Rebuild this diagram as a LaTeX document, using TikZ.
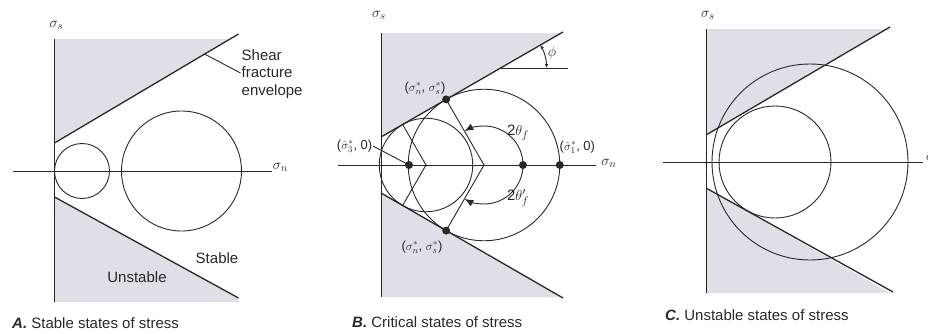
\documentclass[tikz,border=0pt]{standalone}
\usepackage{fontspec}
\setmainfont{Liberation Sans}
\usetikzlibrary{arrows.meta,positioning,calc}
\definecolor{rockgray}{RGB}{224,222,230}
\definecolor{inkgray}{RGB}{40,40,40}

\begin{document}
\begin{tikzpicture}[x=1pt,y=1pt,
		axis/.style={draw=inkgray, line width=0.9pt},
		envline/.style={draw=inkgray, line width=1.3pt},
		mohr/.style={draw=inkgray, line width=0.9pt},
		unstable/.style={fill=rockgray},
		dot/.style={circle, fill=inkgray, inner sep=0pt, minimum size=8pt},
		lbl/.style={font=\fontsize{15}{17.5}\selectfont, text=inkgray, inner sep=1pt},
		pairlbl/.style={font=\fontsize{13}{15}\selectfont, text=inkgray, inner sep=0.5pt},
		caption/.style={font=\fontsize{15}{18}\selectfont, text=inkgray, anchor=west, inner sep=0pt}]
	\useasboundingbox (0,0) rectangle (928,333);

	% A. stable
	\begin{scope}[shift={(54.5,162)}]
		\fill[unstable] (0,28) -- (175,132) -- (0,132) -- cycle;
		\fill[unstable] (0,-26) -- (184,-127) -- (184,-131) -- (0,-131) -- cycle;
		\draw[axis] (0,-131) -- (0,132);
		\draw[axis] (-42,0) -- (217,0);
		\node[lbl] (Asigs) at (2,146) {$\sigma_s$};
		\node[lbl] (Asign) at (226,4) {$\sigma_n$};
		\draw[envline] (0,28) -- (184,137);
		\draw[envline] (0,-26) -- (184,-127);
		\draw[mohr] (27.5,0) circle[radius=27.5];
		\draw[mohr] (127,0) circle[radius=60];
		\coordinate (Aenvpt) at (150,117);
		\node[lbl, align=left, anchor=west] (Ashear) at (186,97) {Shear\\fracture\\envelope};
		\draw[mohr] (Aenvpt) -- ([yshift=1pt]Ashear.west);
		\node[lbl] (Astable) at (162.5,-87) {Stable};
		\node[lbl] (Aunstable) at (82.5,-106) {Unstable};
	\end{scope}

	% B. critical
	\begin{scope}[shift={(381,168)}]
		\fill[unstable] (0,28) -- (180,132) -- (0,132) -- cycle;
		\fill[unstable] (0,-28) -- (180,-132) -- (0,-132) -- cycle;
		\draw[axis] (0,-132) -- (0,132);
		\draw[axis] (-43,0) -- (215,0);
		\node[lbl] (Bsigs) at (-2,150) {$\sigma_s$};
		\node[lbl] (Bsign) at (228,2) {$\sigma_n$};
		\draw[envline] (0,28) -- (182,133);
		\draw[envline] (0,-28) -- (182,-133);
		\coordinate (Bsmall) at (45,0);
		\coordinate (Bbig) at (103,0);
		\draw[mohr] (Bsmall) circle[radius=46.75];
		\draw[mohr] (Bbig) circle[radius=75.75];
		\coordinate (Bsmtop) at ($(Bsmall)+(120:46.75)$);
		\coordinate (Bsmbot) at ($(Bsmall)+(240:46.75)$);
		\draw[mohr] (Bsmtop) -- (Bsmall) -- (Bsmbot);
		\node[dot] (Btop) at ($(Bbig)+(120:75.75)$) {};
		\node[dot] (Bbot) at ($(Bbig)+(240:75.75)$) {};
		\draw[mohr] (Btop.center) -- (Bbig) -- (Bbot.center);
		\node[dot] (Bsig3) at (28,0) {};
		\node[dot] (Bref) at (142,0) {};
		\node[dot] (Bsig1) at (178.75,0) {};
		\draw[mohr, -{Latex[length=9pt,width=7pt]}] (Bref.center) arc[start angle=0, end angle=120, radius=39];
		\draw[mohr, -{Latex[length=9pt,width=7pt]}] (Bref.center) arc[start angle=0, end angle=-120, radius=39];
		\node[lbl] (Btheta) at (137,32) {2$\theta_f$};
		\node[lbl] (Bthetap) at (137,-33) {2$\theta_f'$};
		\node[pairlbl] (Btoplbl) at (44,77) {($\sigma^*_n$, $\sigma^*_s$)};
		\node[pairlbl] (Bbotlbl) at (41,-82) {($\sigma^*_n$, $\sigma^*_s$)};
		\node[pairlbl, anchor=east] (Bsig3lbl) at (-8,19) {($\hat\sigma^*_3$, 0)};
		\draw[mohr] (Bsig3lbl.east) -- (Bsig3.center);
		\node[pairlbl, anchor=west] (Bsig1lbl) at (178,18) {($\hat\sigma^*_1$, 0)};
		\coordinate (Bphi) at (119.5,97);
		\coordinate (Bflat) at (187,97);
		\draw[mohr] (Bphi) -- (Bflat);
		\draw[mohr, {Latex[length=4pt,width=3.5pt]}-{Latex[length=4pt,width=3.5pt]}] ($(Bphi)+(0:46)$) arc[start angle=0, end angle=30, radius=46];
		\node[lbl] (Bphilbl) at (171,112) {$\phi$};
	\end{scope}

	% C. unstable
	\begin{scope}[shift={(706,171)}]
		\fill[unstable] (0,27) -- (180.5,133) -- (0,133) -- cycle;
		\fill[unstable] (0,-26) -- (184,-131) -- (0,-131) -- cycle;
		\draw[axis] (0,-131) -- (0,133);
		\draw[axis] (-43,0) -- (217,0);
		\node[lbl] (Csigs) at (2,147) {$\sigma_s$};
		\node[lbl, anchor=west] (Csign) at (219,4) {$\sigma_n$};
		\draw[envline] (0,27) -- (184,135);
		\draw[envline] (0,-26) -- (187,-130);
		\draw[mohr] (69,0) circle[radius=56];
		\draw[mohr] (104,0) circle[radius=98];
	\end{scope}

	\node[caption] (Acap) at (12,10) {\textbf{\textit{A.}} Stable states of stress};
	\node[caption] (Bcap) at (352,11) {\textbf{\textit{B.}} Critical states of stress};
	\node[caption] (Ccap) at (665,18) {\textbf{\textit{C.}} Unstable states of stress};
\end{tikzpicture}
\end{document}
